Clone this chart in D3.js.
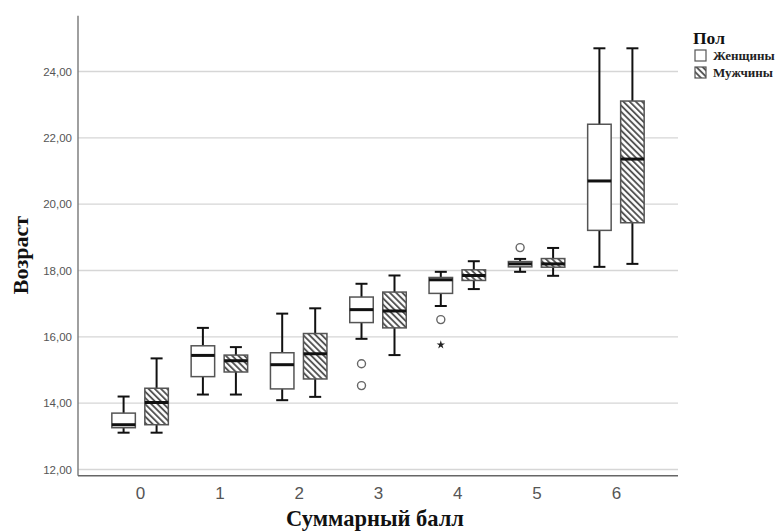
<!DOCTYPE html>
<html><head><meta charset="utf-8">
<script src="https://cdn.jsdelivr.net/npm/d3@7"></script>
<style>body{margin:0;background:#fff}</style>
</head><body>
<script>
const categories = ["0","1","2","3","4","5","6"];
const seriesNames = ["Женщины","Мужчины"];
const yTicks = [12,14,16,18,20,22,24];

const womenLow  = [13.11, 14.26, 14.09, 15.94, 16.93, 17.96, 18.11];
const womenQ1   = [13.26, 14.80, 14.43, 16.43, 17.31, 18.11, 19.21];
const womenMed  = [13.35, 15.44, 15.16, 16.82, 17.72, 18.20, 20.70];
const womenQ3   = [13.70, 15.73, 15.52, 17.20, 17.79, 18.27, 22.41];
const womenHigh = [14.20, 16.27, 16.70, 17.60, 17.96, 18.35, 24.70];

const menLow  = [13.11, 14.26, 14.19, 15.45, 17.44, 17.84, 18.20];
const menQ1   = [13.35, 14.94, 14.73, 16.27, 17.70, 18.10, 19.44];
const menMed  = [14.02, 15.28, 15.49, 16.78, 17.85, 18.20, 21.36];
const menQ3   = [14.45, 15.45, 16.10, 17.35, 18.02, 18.36, 23.11];
const menHigh = [15.35, 15.69, 16.86, 17.85, 18.28, 18.68, 24.70];

const outlierCat   = ["3", "3", "4", "4", "5"];
const outlierVal   = [15.19, 14.53, 16.52, 15.76, 18.69];
const outlierKind  = ["circle", "circle", "circle", "star", "circle"];
const outlierSeries= [0, 0, 0, 0, 0];

const W = 775, H = 532;
const svg = d3.select("body").append("svg").attr("width", W).attr("height", H);

const defs = svg.append("defs");
const pat = defs.append("pattern").attr("id","hatch").attr("patternUnits","userSpaceOnUse")
  .attr("width",4.4).attr("height",4.4).attr("patternTransform","rotate(-45)");
pat.append("rect").attr("width",4.4).attr("height",4.4).attr("fill","#fff");
pat.append("line").attr("x1",1).attr("y1",0).attr("x2",1).attr("y2",4.4)
  .attr("stroke","#4a4a4a").attr("stroke-width",1.8);

const x0 = 78, x1 = 678, yTop = 15.8, yBot = 475.8;
const x = d3.scalePoint().domain(categories).range([x0, x1]).padding(0.783);
const y = d3.scaleLinear().domain([11.81, 25.68]).range([yBot, yTop]);
const off = d3.scalePoint().domain(seriesNames).range([-16.5, 16.5]);
const boxW = 23.5, capW = 12;

// grid
svg.append("g").selectAll("line").data(yTicks).join("line")
  .attr("x1", x0).attr("x2", x1).attr("y1", d=>y(d)).attr("y2", d=>y(d))
  .attr("stroke","#d6d6d6").attr("stroke-width",1.3);

// y axis
const yAxis = d3.axisLeft(y).tickValues(yTicks).tickSize(0).tickPadding(6)
  .tickFormat(d => d3.format(".2f")(d).replace(".", ","));
const gy = svg.append("g").attr("transform",`translate(${x0},0)`).call(yAxis);
gy.select(".domain").remove();
gy.selectAll("text").attr("font-family","Liberation Sans, Arial, sans-serif")
  .attr("font-size",11.5).attr("fill","#555");

// x axis
const xAxis = d3.axisBottom(x).tickSize(0).tickPadding(11);
const gx = svg.append("g").attr("transform",`translate(0,${yBot})`).call(xAxis);
gx.select(".domain").remove();
gx.selectAll("text").attr("font-family","Liberation Sans, Arial, sans-serif")
  .attr("font-size",17).attr("fill","#555");

svg.append("line").attr("x1",x0).attr("x2",x0).attr("y1",yTop).attr("y2",yBot)
  .attr("stroke","#777").attr("stroke-width",1.4);
svg.append("line").attr("x1",x0).attr("x2",x1).attr("y1",yBot).attr("y2",yBot)
  .attr("stroke","#666").attr("stroke-width",1.4);

// boxes
const boxes = [];
categories.forEach((c,i) => {
  boxes.push({c, s: seriesNames[0], lo: womenLow[i], q1: womenQ1[i], med: womenMed[i], q3: womenQ3[i], hi: womenHigh[i]});
  boxes.push({c, s: seriesNames[1], lo: menLow[i], q1: menQ1[i], med: menMed[i], q3: menQ3[i], hi: menHigh[i]});
});
const g = svg.append("g");
const bg = g.selectAll("g.box").data(boxes).join("g").attr("class","box")
  .attr("transform", d => `translate(${x(d.c)+off(d.s)},0)`);
bg.append("line").attr("x1",0).attr("x2",0).attr("y1",d=>y(d.hi)).attr("y2",d=>y(d.lo))
  .attr("stroke","#111").attr("stroke-width",2);
bg.append("line").attr("x1",-capW/2).attr("x2",capW/2).attr("y1",d=>y(d.hi)).attr("y2",d=>y(d.hi))
  .attr("stroke","#111").attr("stroke-width",2);
bg.append("line").attr("x1",-capW/2).attr("x2",capW/2).attr("y1",d=>y(d.lo)).attr("y2",d=>y(d.lo))
  .attr("stroke","#111").attr("stroke-width",2);
bg.append("rect").attr("x",-boxW/2).attr("width",boxW)
  .attr("y",d=>y(d.q3)).attr("height",d=>Math.max(1,y(d.q1)-y(d.q3)))
  .attr("fill", d => d.s === seriesNames[0] ? "#fff" : "url(#hatch)")
  .attr("stroke","#555").attr("stroke-width",1.5);
bg.append("line").attr("x1",-boxW/2).attr("x2",boxW/2).attr("y1",d=>y(d.med)).attr("y2",d=>y(d.med))
  .attr("stroke","#111").attr("stroke-width",3);

// outliers
const outs = outlierCat.map((c,i)=>({c, v: outlierVal[i], k: outlierKind[i], s: seriesNames[outlierSeries[i]]}));
g.selectAll("circle.out").data(outs.filter(d=>d.k==="circle")).join("circle").attr("class","out")
  .attr("cx", d=>x(d.c)+off(d.s)).attr("cy", d=>y(d.v)).attr("r",4)
  .attr("fill","#fff").attr("stroke","#666").attr("stroke-width",1.4);
g.selectAll("path.star").data(outs.filter(d=>d.k==="star")).join("path").attr("class","star")
  .attr("transform", d=>`translate(${x(d.c)+off(d.s)},${y(d.v)})`)
  .attr("d", d3.symbol(d3.symbolStar, 22)).attr("fill","#222");

// axis titles
svg.append("text").attr("x", 375).attr("y", 526).attr("text-anchor","middle")
  .attr("font-family","Liberation Serif, Times New Roman, serif").attr("font-weight","bold")
  .attr("font-size",22.5).attr("fill","#111").text("Суммарный балл");
svg.append("text").attr("transform","translate(27.5,255) rotate(-90)").attr("text-anchor","middle")
  .attr("font-family","Liberation Serif, Times New Roman, serif").attr("font-weight","bold")
  .attr("font-size",22).attr("fill","#111").text("Возраст");

// legend
const lg = svg.append("g");
lg.append("text").attr("x",693).attr("y",44)
  .attr("font-family","Liberation Serif, Times New Roman, serif").attr("font-weight","bold")
  .attr("font-size",17.5).attr("fill","#111").text("Пол");
const li = lg.selectAll("g.item").data(seriesNames).join("g").attr("class","item")
  .attr("transform",(d,i)=>`translate(695,${50 + i*17})`);
li.append("rect").attr("width",11).attr("height",11)
  .attr("fill", (d,i)=> i===0 ? "#fff" : "url(#hatch)").attr("stroke","#555").attr("stroke-width",1.2);
li.append("text").attr("x",18).attr("y",10)
  .attr("font-family","Liberation Serif, Times New Roman, serif").attr("font-weight","bold")
  .attr("font-size",13).attr("fill","#222").text(d=>d);
</script>
</body></html>
